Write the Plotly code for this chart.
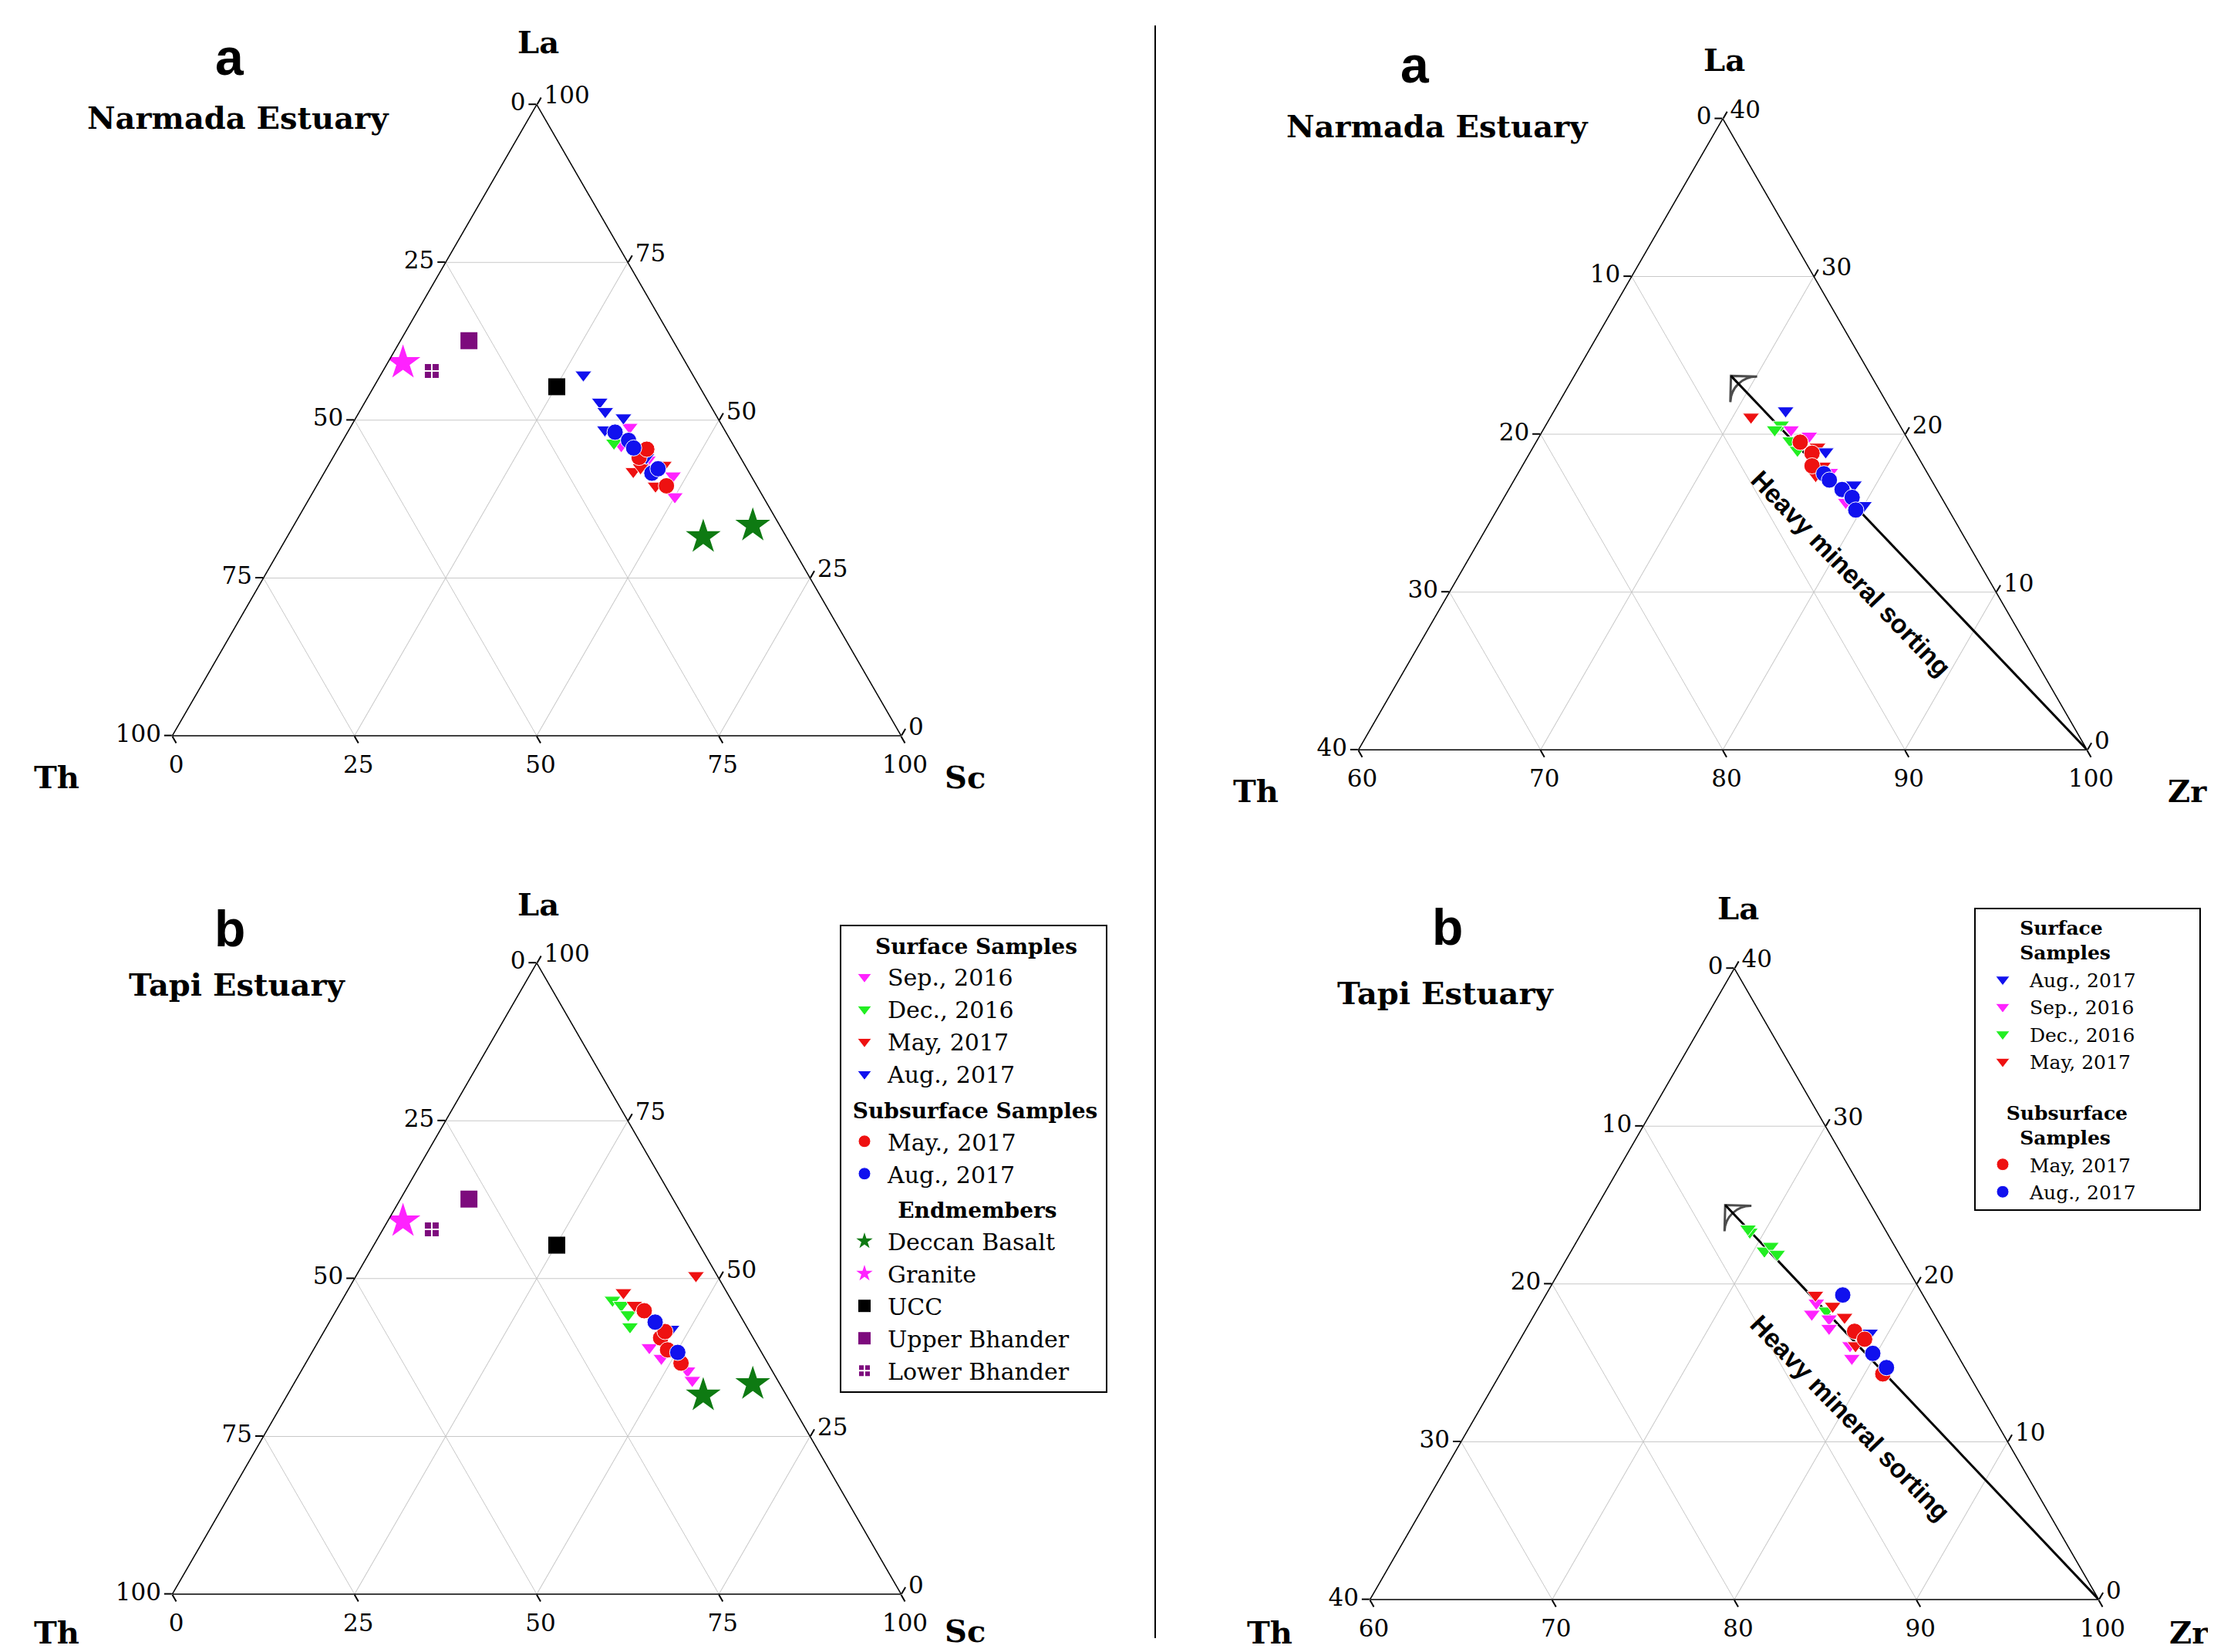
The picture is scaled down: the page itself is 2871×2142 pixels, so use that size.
import plotly.graph_objects as go

# ---------------- DATA ----------------
# Left panels: La - Th - Sc (percent)
# Narmada Estuary (panel a, left)
N1_SEP16_LA = [48.9, 41.2, 37.9, 43.7, 46.0]
N1_SEP16_TH = [12.8, 10.7, 12.1, 12.9, 15.4]
N1_SEP16_SC = [38.3, 48.1, 50.0, 43.4, 38.6]
N1_DEC16_LA = [46.4]
N1_DEC16_TH = [16.2]
N1_DEC16_SC = [37.4]
N1_MAY17_LA = [41.9, 42.5, 42.9, 39.6]
N1_MAY17_TH = [15.8, 14.5, 11.1, 13.9]
N1_MAY17_SC = [42.3, 43.0, 46.0, 46.5]
N1_AUG17_LA = [57.2, 52.9, 51.4, 50.4, 48.5, 44.1]
N1_AUG17_TH = [15.0, 14.9, 14.9, 12.9, 16.4, 12.9]
N1_AUG17_SC = [27.8, 32.2, 33.7, 36.7, 35.1, 43.0]
N1_SUB_MAY17_LA = [44.1, 39.6, 45.4]
N1_SUB_MAY17_TH = [13.9, 12.4, 12.2]
N1_SUB_MAY17_SC = [42.0, 48.0, 42.4]
N1_SUB_AUG17_LA = [48.1, 46.8, 45.6, 41.6, 42.3]
N1_SUB_AUG17_TH = [15.2, 14.0, 13.9, 13.4, 12.2]
N1_SUB_AUG17_SC = [36.7, 39.2, 40.5, 45.0, 45.5]

# Tapi Estuary (panel b, left)
T1_SEP16_LA = [39.1, 37.4, 35.4, 33.9]
T1_SEP16_TH = [15.0, 14.2, 11.6, 11.7]
T1_SEP16_SC = [45.9, 48.4, 53.0, 54.4]
T1_DEC16_LA = [46.6, 45.8, 42.4, 44.3]
T1_DEC16_TH = [16.3, 15.5, 16.0, 15.3]
T1_DEC16_SC = [37.1, 38.7, 41.6, 40.4]
T1_MAY17_LA = [50.5, 47.8, 45.8]
T1_MAY17_TH = [2.9, 14.2, 13.7]
T1_MAY17_SC = [46.6, 38.0, 40.5]
T1_AUG17_LA = [42.0]
T1_AUG17_TH = [10.5]
T1_AUG17_SC = [47.5]
T1_SUB_MAY17_LA = [44.9, 40.6, 41.6, 36.6, 38.7]
T1_SUB_MAY17_TH = [12.8, 12.7, 11.6, 11.9, 12.7]
T1_SUB_MAY17_SC = [42.3, 46.7, 46.8, 51.5, 48.6]
T1_SUB_AUG17_LA = [43.1, 38.3]
T1_SUB_AUG17_TH = [12.2, 11.5]
T1_SUB_AUG17_SC = [44.7, 50.2]

# Endmembers (La, Th, Sc)
BASALT_LA = [31.5, 33.3]
BASALT_TH = [11.4, 3.7]
BASALT_SC = [57.1, 63.0]
GRANITE_LA = [59.1]
GRANITE_TH = [38.8]
GRANITE_SC = [2.1]
UCC_LA = [55.3]
UCC_TH = [19.6]
UCC_SC = [25.1]
UBHANDER_LA = [62.6]
UBHANDER_TH = [28.0]
UBHANDER_SC = [9.4]
LBHANDER_LA = [57.8]
LBHANDER_TH = [35.5]
LBHANDER_SC = [6.7]

# Right panels: La - Th - Zr (percent)
N2_SEP16_LA = [19.9, 20.3, 17.6, 15.7]
N2_SEP16_TH = [5.3, 6.1, 5.3, 5.4]
N2_SEP16_ZR = [74.8, 73.6, 77.1, 78.9]
N2_DEC16_LA = [20.6, 20.3, 19.6, 19.0]
N2_DEC16_TH = [6.5, 7.0, 6.5, 6.4]
N2_DEC16_ZR = [72.9, 72.7, 73.9, 74.6]
N2_MAY17_LA = [21.1, 19.2, 18.0, 17.4]
N2_MAY17_TH = [7.9, 5.2, 5.5, 6.2]
N2_MAY17_ZR = [71.0, 75.6, 76.5, 76.4]
N2_AUG17_LA = [21.5, 18.9, 16.8, 15.5]
N2_AUG17_TH = [5.8, 4.9, 4.4, 4.5]
N2_AUG17_ZR = [72.7, 76.2, 78.8, 80.0]
N2_SUB_MAY17_LA = [19.5, 18.8, 18.0]
N2_SUB_MAY17_TH = [6.0, 5.7, 6.1]
N2_SUB_MAY17_ZR = [74.5, 75.5, 75.9]
N2_SUB_AUG17_LA = [17.5, 17.1, 16.5, 16.0, 15.2]
N2_SUB_AUG17_TH = [5.7, 5.6, 5.2, 4.9, 5.1]
N2_SUB_AUG17_ZR = [76.8, 77.3, 78.3, 79.1, 79.7]

T2_SEP16_LA = [18.8, 18.1, 17.8, 17.2, 15.3, 16.1]
T2_SEP16_TH = [6.1, 6.7, 5.9, 6.2, 5.9, 5.6]
T2_SEP16_ZR = [75.1, 75.2, 76.3, 76.6, 78.8, 78.3]
T2_DEC16_LA = [23.3, 22.1, 22.4, 21.9, 23.5, 18.3]
T2_DEC16_TH = [7.5, 7.3, 6.8, 6.7, 7.5, 5.8]
T2_DEC16_ZR = [69.2, 70.6, 70.8, 71.4, 69.0, 75.9]
T2_MAY17_LA = [19.3, 18.6, 17.9, 16.1]
T2_MAY17_TH = [5.9, 5.3, 5.0, 5.3]
T2_MAY17_ZR = [74.8, 76.1, 77.1, 78.6]
T2_AUG17_LA = [16.9]
T2_AUG17_TH = [4.1]
T2_AUG17_ZR = [79.0]
T2_SUB_MAY17_LA = [17.0, 16.5, 14.3]
T2_SUB_MAY17_TH = [4.9, 4.6, 4.7]
T2_SUB_MAY17_ZR = [78.1, 78.9, 81.0]
T2_SUB_AUG17_LA = [19.3, 15.6, 14.7]
T2_SUB_AUG17_TH = [4.4, 4.6, 4.3]
T2_SUB_AUG17_ZR = [76.3, 79.8, 81.0]

# Heavy mineral sorting trend (start at Zr apex, end at arrow head)
ARROW_N_LA = [0, 23.7]
ARROW_N_TH = [0, 7.7]
ARROW_N_ZR = [100, 68.6]
ARROW_T_LA = [0, 25.0]
ARROW_T_TH = [0, 8.0]
ARROW_T_ZR = [100, 67.0]

# Tick values (ternary axis values) and the labels shown along each edge
LEFT_TICKS = [0, 25, 50, 75, 100]
LEFT_TICKTEXT = ["100", "75", "50", "25", "0"]
RIGHT_AB_TICKS = [0, 10, 20, 30, 40]
RIGHT_A_TEXT = ["40", "30", "20", "10", "0"]      # Th along left edge
RIGHT_B_TEXT = ["100", "90", "80", "70", "60"]    # Zr along bottom edge
RIGHT_C_TICKS = [60, 70, 80, 90, 100]
RIGHT_C_TEXT = ["40", "30", "20", "10", "0"]      # La along right edge

# ---------------- STYLE ----------------
MAGENTA = "#ff22ff"
GREEN = "#22ee22"
RED = "#ee1111"
BLUE = "#1111ee"
DGREEN = "#0e7a12"
PURPLE = "#7d0b7d"
SERIF = "DejaVu Serif"
SANS = "Liberation Sans"
TRI = 19
CIR = 21
NB = "&nbsp;"

# page: the figure sits 8 px in from the page corner (default body margin)
OFF = 8
FW, FH = 2871 - OFF, 2142 - OFF


def px(x):
    return (x - OFF) / FW


def py(y):
    return 1 - (y - OFF) / FH


fig = go.Figure()


def add(sub, a, b, c, name, symbol, color, size, legend=None, group=None,
        gtitle=None, rank=1000, lw=1, lcolor="white", gsize=28):
    show = legend is not None
    kw = dict(
        a=a, b=b, c=c, mode="markers", subplot=sub, name=name,
        marker=dict(symbol=symbol, color=color, size=size,
                    line=dict(color=lcolor, width=lw)),
        showlegend=show, hoverinfo="a+b+c+name",
    )
    if show:
        kw.update(legend=legend, legendgroup=group, legendrank=rank,
                  legendgrouptitle=dict(text=gtitle,
                                        font=dict(family=SERIF, size=gsize, color="black",
                                                  weight="bold")))
    fig.add_trace(go.Scatterternary(**kw))


G_SURF = NB * 4 + "Surface Samples"
G_SUB = NB * 1 + "Subsurface Samples"
G_END = NB * 7 + "Endmembers"


def add_surface_left(sub, data, legend=None):
    (sep, dec, may, aug) = data
    add(sub, *sep, "Sep., 2016", "triangle-down", MAGENTA, TRI, legend, "s", G_SURF, 1)
    add(sub, *dec, "Dec., 2016", "triangle-down", GREEN, TRI, legend, "s", G_SURF, 2)
    add(sub, *may, "May, 2017", "triangle-down", RED, TRI, legend, "s", G_SURF, 3)
    add(sub, *aug, "Aug., 2017", "triangle-down", BLUE, TRI, legend, "s", G_SURF, 4)


def add_sub_left(sub, data, legend=None, may_name="May., 2017"):
    (may, aug) = data
    add(sub, *may, may_name, "circle", RED, CIR, legend, "u", G_SUB, 5)
    add(sub, *aug, "Aug., 2017", "circle", BLUE, CIR, legend, "u", G_SUB, 6)


def add_endmembers(sub, legend=None):
    add(sub, BASALT_LA, BASALT_TH, BASALT_SC, "Deccan Basalt", "star", DGREEN, 34, legend, "e", G_END, 7, 0)
    add(sub, GRANITE_LA, GRANITE_TH, GRANITE_SC, "Granite", "star", MAGENTA, 34, legend, "e", G_END, 8, 0)
    add(sub, UCC_LA, UCC_TH, UCC_SC, "UCC", "square", "black", 22, legend, "e", G_END, 9, 0)
    add(sub, UBHANDER_LA, UBHANDER_TH, UBHANDER_SC, "Upper Bhander", "square", PURPLE, 22, legend, "e", G_END, 10, 0)
    add(sub, LBHANDER_LA, LBHANDER_TH, LBHANDER_SC, "Lower Bhander", "square-cross", PURPLE, 20, legend, "e", G_END, 11, 2)


# Panel a (left) - Narmada La-Th-Sc
add_surface_left("ternary", [
    (N1_SEP16_LA, N1_SEP16_TH, N1_SEP16_SC),
    (N1_DEC16_LA, N1_DEC16_TH, N1_DEC16_SC),
    (N1_MAY17_LA, N1_MAY17_TH, N1_MAY17_SC),
    (N1_AUG17_LA, N1_AUG17_TH, N1_AUG17_SC)])
add_sub_left("ternary", [
    (N1_SUB_MAY17_LA, N1_SUB_MAY17_TH, N1_SUB_MAY17_SC),
    (N1_SUB_AUG17_LA, N1_SUB_AUG17_TH, N1_SUB_AUG17_SC)])
add_endmembers("ternary")

# Panel b (left) - Tapi La-Th-Sc (with legend)
add_surface_left("ternary2", [
    (T1_SEP16_LA, T1_SEP16_TH, T1_SEP16_SC),
    (T1_DEC16_LA, T1_DEC16_TH, T1_DEC16_SC),
    (T1_MAY17_LA, T1_MAY17_TH, T1_MAY17_SC),
    (T1_AUG17_LA, T1_AUG17_TH, T1_AUG17_SC)], legend="legend")
add_sub_left("ternary2", [
    (T1_SUB_MAY17_LA, T1_SUB_MAY17_TH, T1_SUB_MAY17_SC),
    (T1_SUB_AUG17_LA, T1_SUB_AUG17_TH, T1_SUB_AUG17_SC)], legend="legend")
add_endmembers("ternary2", legend="legend")


def add_arrow(sub, la, th, zr):
    fig.add_trace(go.Scatterternary(
        a=la, b=th, c=zr, subplot=sub, mode="lines+markers", showlegend=False,
        line=dict(color="black", width=3), hoverinfo="skip",
        marker=dict(symbol=["circle", "arrow-wide-open"], size=[0, 34],
                    angleref="previous", color="black",
                    line=dict(color="black", width=3))))


# Panel a (right) - Narmada La-Th-Zr
add_arrow("ternary3", ARROW_N_LA, ARROW_N_TH, ARROW_N_ZR)
add("ternary3", N2_DEC16_LA, N2_DEC16_TH, N2_DEC16_ZR, "Dec., 2016", "triangle-down", GREEN, TRI)
add("ternary3", N2_SEP16_LA, N2_SEP16_TH, N2_SEP16_ZR, "Sep., 2016", "triangle-down", MAGENTA, TRI)
add("ternary3", N2_MAY17_LA, N2_MAY17_TH, N2_MAY17_ZR, "May, 2017", "triangle-down", RED, TRI)
add("ternary3", N2_AUG17_LA, N2_AUG17_TH, N2_AUG17_ZR, "Aug., 2017", "triangle-down", BLUE, TRI)
add("ternary3", N2_SUB_MAY17_LA, N2_SUB_MAY17_TH, N2_SUB_MAY17_ZR, "May, 2017", "circle", RED, CIR)
add("ternary3", N2_SUB_AUG17_LA, N2_SUB_AUG17_TH, N2_SUB_AUG17_ZR, "Aug., 2017", "circle", BLUE, CIR)

# Panel b (right) - Tapi La-Th-Zr (with legend2)
G2_SURF = NB * 6 + "Surface" + NB * 10 + "<br>" + NB * 6 + "Samples" + NB * 12
G2_SUB = NB * 4 + "Subsurface" + NB * 8 + "<br>" + NB * 6 + "Samples" + NB * 12
add_arrow("ternary4", ARROW_T_LA, ARROW_T_TH, ARROW_T_ZR)
add("ternary4", T2_DEC16_LA, T2_DEC16_TH, T2_DEC16_ZR, "Dec., 2016", "triangle-down", GREEN, TRI,
    "legend2", "s", G2_SURF, 3, gsize=25)
add("ternary4", T2_SEP16_LA, T2_SEP16_TH, T2_SEP16_ZR, "Sep., 2016", "triangle-down", MAGENTA, TRI,
    "legend2", "s", G2_SURF, 2, gsize=25)
add("ternary4", T2_MAY17_LA, T2_MAY17_TH, T2_MAY17_ZR, "May, 2017", "triangle-down", RED, TRI,
    "legend2", "s", G2_SURF, 4, gsize=25)
add("ternary4", T2_AUG17_LA, T2_AUG17_TH, T2_AUG17_ZR, "Aug., 2017", "triangle-down", BLUE, TRI,
    "legend2", "s", G2_SURF, 1, gsize=25)
add("ternary4", T2_SUB_MAY17_LA, T2_SUB_MAY17_TH, T2_SUB_MAY17_ZR, "May, 2017", "circle", RED, CIR,
    "legend2", "u", G2_SUB, 5, gsize=25)
add("ternary4", T2_SUB_AUG17_LA, T2_SUB_AUG17_TH, T2_SUB_AUG17_ZR, "Aug., 2017", "circle", BLUE, CIR,
    "legend2", "u", G2_SUB, 6, gsize=25)

# ---------------- LAYOUT ----------------
TICKFONT = dict(family=SERIF, size=31, color="black")


def axis(tickvals, ticktext, mn=0):
    return dict(
        title=dict(text=""), min=mn,
        tickmode="array", tickvals=tickvals, ticktext=ticktext,
        ticks="outside", ticklen=10, tickwidth=1.5, tickcolor="black",
        tickfont=TICKFONT, showline=True, linecolor="black", linewidth=1.5,
        showgrid=True, gridcolor="#c8c8c8", gridwidth=1.2,
    )


def dom(x0, x1, ytop, ybot):
    return dict(x=[px(x0), px(x1)], y=[py(ybot), py(ytop)])


def left_tern(d):
    return dict(
        domain=d, sum=100, bgcolor="white",
        aaxis=axis(LEFT_TICKS, LEFT_TICKTEXT),
        baxis=axis(LEFT_TICKS, LEFT_TICKTEXT),
        caxis=axis(LEFT_TICKS, LEFT_TICKTEXT),
    )


def right_tern(d):
    return dict(
        domain=d, sum=100, bgcolor="white",
        aaxis=axis(RIGHT_AB_TICKS, RIGHT_A_TEXT, 0),
        baxis=axis(RIGHT_AB_TICKS, RIGHT_B_TEXT, 0),
        caxis=axis(RIGHT_C_TICKS, RIGHT_C_TEXT, 60),
    )


fig.update_layout(
    width=FW, height=FH,
    margin=dict(l=0, r=0, t=0, b=0),
    paper_bgcolor="white", plot_bgcolor="white",
    ternary=left_tern(dom(223.5, 1168.5, 135.6, 954.0)),
    ternary2=left_tern(dom(223.5, 1168.5, 1248.6, 2067.0)),
    ternary3=right_tern(dom(1761.5, 2706.5, 153.9, 972.3)),
    ternary4=right_tern(dom(1776.5, 2721.5, 1255.6, 2074.0)),
    legend=dict(x=px(1089), y=py(1199), xanchor="left", yanchor="top",
                bordercolor="black", borderwidth=2, bgcolor="white",
                font=dict(family=SERIF, size=30, color="black"),
                traceorder="grouped", tracegroupgap=6,
                itemsizing="trace", itemwidth=50),
    legend2=dict(x=px(2560), y=py(1177), xanchor="left", yanchor="top",
                 bordercolor="black", borderwidth=2, bgcolor="white",
                 font=dict(family=SERIF, size=25, color="black"),
                 traceorder="grouped", tracegroupgap=30,
                 itemsizing="trace", itemwidth=60),
    showlegend=True,
)

ann = []
def text(x, y, s, font, angle=0, xanchor="center"):
    ann.append(dict(x=px(x), y=py(y), xref="paper", yref="paper", text=s,
                    showarrow=False, font=font, textangle=angle,
                    xanchor=xanchor, yanchor="middle"))

LETTER = dict(family=SANS, size=66, color="black", weight="bold")
PTITLE = dict(family=SERIF, size=40, color="black", weight="bold")
ATITLE = dict(family=SERIF, size=40, color="black", weight="bold")
HMS = dict(family=SANS, size=34, color="black", weight="bold")

# panel letters and titles
text(298, 74, "a", LETTER)
text(309, 152, "Narmada Estuary", PTITLE)
text(298, 1204, "b", LETTER)
text(308, 1276, "Tapi Estuary", PTITLE)
text(1835, 84, "a", LETTER)
text(1864, 163, "Narmada Estuary", PTITLE)
text(1877, 1202, "b", LETTER)
text(1875, 1287, "Tapi Estuary", PTITLE)

# ternary vertex (axis) titles
text(698, 55, "La", ATITLE)
text(73, 1007, "Th", ATITLE)
text(1251, 1007, "Sc", ATITLE)
text(698, 1172, "La", ATITLE)
text(73, 2116, "Th", ATITLE)
text(1251, 2114, "Sc", ATITLE)
text(2236, 77, "La", ATITLE)
text(1628, 1025, "Th", ATITLE)
text(2864, 1025, "Zr", ATITLE, xanchor="right")
text(2254, 1177, "La", ATITLE)
text(1646, 2116, "Th", ATITLE)
text(2866, 2116, "Zr", ATITLE, xanchor="right")

# trend labels
text(2400, 743, "Heavy mineral sorting", HMS, 46)
text(2399, 1838, "Heavy mineral sorting", HMS, 46)

fig.update_layout(annotations=ann)
fig.add_shape(type="line", xref="paper", yref="paper",
              x0=px(1498), x1=px(1498), y0=py(33), y1=py(2124),
              line=dict(color="black", width=2))

fig.write_html("out.html")
